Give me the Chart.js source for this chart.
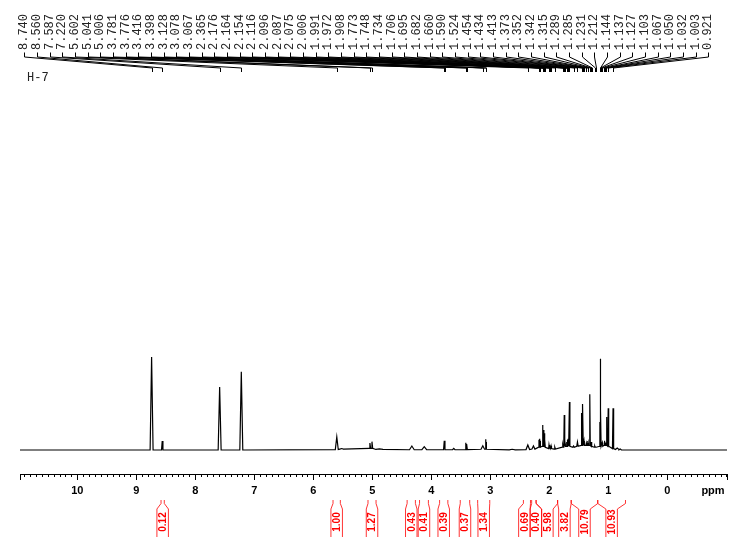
<!DOCTYPE html>
<html>
<head>
<meta charset="utf-8">
<title>H-7</title>
<script src="https://cdn.jsdelivr.net/npm/chart.js@4.4.0/dist/chart.umd.min.js"></script>
<style>
    html, body { margin: 0; padding: 0; background: #fff; }
    canvas { display: block; }
</style>
</head>
<body>
<canvas id="nmrChart" width="738" height="552"></canvas>
<script>
// peaks: shift (ppm), top, local baseline under it, half width (ppm)
const peakShift = [8.740, 8.560, 7.587, 7.220, 5.602, 5.520, 5.041, 5.006, 4.880, 4.330, 4.120,
    3.781, 3.620, 3.416, 3.398, 3.128, 3.078, 3.067, 2.630, 2.365, 2.270, 2.176, 2.164, 2.154,
    2.116, 2.096, 2.087, 2.075, 2.006, 1.991, 1.972, 1.908, 1.773, 1.748, 1.734, 1.706, 1.695,
    1.682, 1.660, 1.590, 1.524, 1.454, 1.434, 1.413, 1.373, 1.352, 1.342, 1.315, 1.289, 1.231,
    1.212, 1.144, 1.137, 1.127, 1.103, 1.067, 1.050, 1.032, 1.003, 0.921, 0.850, 0.800];
const peakHeight = [100, 9.7, 67.7, 84, 14, 1.6, 7.5, 9, 1.2, 4.3, 3.5,
    10, 1.8, 7.8, 6.5, 4.5, 11.5, 8.5, 0.8, 5.4, 4.3, 11, 12, 10,
    27, 21.5, 18, 11, 5.4, 3.5, 4.5, 3.2, 5.4, 37.6, 7, 8.6, 11,
    12, 51.6, 4.3, 8.6, 39.8, 49.5, 9.7, 7.5, 9.7, 7.5, 60, 8.6, 4.3,
    3.2, 30, 98, 44, 8, 10, 8, 35.5, 45, 45, 2.2, 1];
const peakFoot = [0, 0, 0, 0, 0.5, 1, 1.8, 1.8, 0.6, 0.3, 0.3,
    0.3, 0.3, 0.5, 0.5, 0.8, 0.8, 0.8, 0.2, 0.5, 1, 3, 3, 3,
    4, 4, 4, 3, 1.5, 1.5, 1.5, 1, 3, 4, 4, 4, 4,
    4, 4, 3, 4, 5, 5, 5, 5, 5, 5, 5, 4, 3,
    3, 4, 4, 4, 4, 5, 5, 5, 4, 1.5, 0.5, 0.2];
const peakHalfWidth = [0.025, 0.012, 0.025, 0.025, 0.025, 0.03, 0.012, 0.012, 0.06, 0.04, 0.04,
    0.012, 0.02, 0.008, 0.008, 0.03, 0.005, 0.005, 0.05, 0.03, 0.025, 0.005, 0.005, 0.004,
    0.008, 0.004, 0.004, 0.006, 0.006, 0.006, 0.008, 0.012, 0.008, 0.008, 0.005, 0.005, 0.004,
    0.004, 0.008, 0.012, 0.012, 0.008, 0.008, 0.006, 0.008, 0.005, 0.004, 0.008, 0.006, 0.008,
    0.006, 0.003, 0.003, 0.004, 0.008, 0.006, 0.006, 0.008, 0.008, 0.01, 0.03, 0.02];

// peak picking list printed above the spectrum
const pickedShifts = ['8.740', '8.560', '7.587', '7.220', '5.602', '5.041', '5.006', '3.781',
    '3.776', '3.416', '3.398', '3.128', '3.078', '3.067', '2.365', '2.176', '2.164', '2.154',
    '2.116', '2.096', '2.087', '2.075', '2.006', '1.991', '1.972', '1.908', '1.773', '1.748',
    '1.734', '1.706', '1.695', '1.682', '1.660', '1.590', '1.524', '1.454', '1.434', '1.413',
    '1.373', '1.352', '1.342', '1.315', '1.289', '1.285', '1.231', '1.212', '1.144', '1.137',
    '1.127', '1.103', '1.067', '1.050', '1.032', '1.003', '0.921'];

// integral regions (ppm) and their values
const integralFrom = [8.58, 5.666, 5.073, 4.41, 4.20, 3.86, 3.51, 3.215, 2.44, 2.30, 2.225, 1.86, 1.63, 1.18];
const integralTo = [8.525, 5.542, 4.937, 4.27, 4.05, 3.72, 3.35, 3.01, 2.32, 2.225, 1.86, 1.63, 1.18, 0.71];
const integralValue = ['0.12', '1.00', '1.27', '0.43', '0.41', '0.39', '0.37', '1.34', '0.69', '0.40', '5.98', '3.82', '10.79', '10.93'];

const sampleName = 'H-7';
const axisUnit = 'ppm';
const ppmMin = -1.01;
const ppmMax = 10.97;

// line points: each peak is a narrow spike sitting on its local baseline
const trace = [{ x: ppmMax, y: 0 }];
peakShift.forEach((p, i) => {
    const w = peakHalfWidth[i];
    trace.push({ x: p + w, y: peakFoot[i] });
    trace.push({ x: p, y: peakHeight[i] });
    trace.push({ x: p - w, y: peakFoot[i] });
});
trace.push({ x: ppmMin, y: 0 });

const annotations = {
    id: 'annotations',
    afterDraw(chart) {
        const ctx = chart.ctx;
        const xs = chart.scales.x;
        const axisY = chart.chartArea.bottom;
        ctx.save();

        // minor ruler ticks every 0.1 ppm
        ctx.strokeStyle = '#000';
        ctx.lineWidth = 1;
        ctx.beginPath();
        for (let k = -10; k <= 109; k++) {
            const px = Math.round(xs.getPixelForValue(k / 10)) + 0.5;
            ctx.moveTo(px, axisY);
            ctx.lineTo(px, axisY + 3);
        }
        ctx.stroke();

        // unit label
        ctx.fillStyle = '#000';
        ctx.font = 'bold 11px "Liberation Sans", Arial, sans-serif';
        ctx.textAlign = 'center';
        ctx.textBaseline = 'middle';
        ctx.fillText(axisUnit, 713, 491);

        // sample name
        ctx.fillStyle = '#222';
        ctx.font = '12px "Liberation Mono", "Courier New", monospace';
        ctx.textAlign = 'left';
        ctx.textBaseline = 'middle';
        ctx.fillText(sampleName, 27, 78);

        // peak picking labels and their fan of connectors
        const first = 24.3, last = 708.3;
        const step = (last - first) / (pickedShifts.length - 1);
        ctx.beginPath();
        pickedShifts.forEach((label, i) => {
            const lx = Math.round(first + i * step) + 0.5;
            const tx = Math.round(xs.getPixelForValue(parseFloat(label))) + 0.5;
            ctx.moveTo(lx, 52.5);
            ctx.lineTo(lx, 57);
            ctx.lineTo(tx, 68);
            ctx.lineTo(tx, 72);
        });
        ctx.stroke();
        pickedShifts.forEach((label, i) => {
            const lx = first + i * step;
            ctx.save();
            ctx.translate(lx, 50);
            ctx.rotate(-Math.PI / 2);
            ctx.textAlign = 'left';
            ctx.textBaseline = 'middle';
            ctx.fillText(label, 0, 0);
            ctx.restore();
        });

        // integral brackets under the axis
        const boxW = 11.5;
        const centers = integralFrom.map((a, i) =>
            (xs.getPixelForValue(a) + xs.getPixelForValue(integralTo[i])) / 2);
        for (let pass = 0; pass < 10; pass++) {
            for (let i = 1; i < centers.length; i++) {
                const gap = centers[i] - centers[i - 1];
                if (gap < boxW) {
                    const push = (boxW - gap) / 2;
                    centers[i - 1] -= push;
                    centers[i] += push;
                }
            }
        }
        ctx.strokeStyle = 'rgba(255, 0, 0, 0.8)';
        ctx.fillStyle = '#ff0000';
        ctx.font = 'bold 10px "Liberation Sans", Arial, sans-serif';
        const top = 500, neck = 503.5, shoulder = 509, bottom = 537;
        integralFrom.forEach((a, i) => {
            const left = xs.getPixelForValue(a);
            const right = xs.getPixelForValue(integralTo[i]);
            const bl = centers[i] - boxW / 2;
            const br = centers[i] + boxW / 2;
            ctx.beginPath();
            ctx.moveTo(left, top);
            ctx.lineTo(left, neck);
            ctx.lineTo(bl, shoulder);
            ctx.lineTo(bl, bottom);
            ctx.moveTo(right, top);
            ctx.lineTo(right, neck);
            ctx.lineTo(br, shoulder);
            ctx.lineTo(br, bottom);
            ctx.stroke();
            ctx.save();
            ctx.translate(centers[i] + 0.5, 522);
            ctx.rotate(-Math.PI / 2);
            ctx.textAlign = 'center';
            ctx.textBaseline = 'middle';
            ctx.fillText(integralValue[i], 0, 0);
            ctx.restore();
        });

        ctx.restore();
    }
};

new Chart(document.getElementById('nmrChart').getContext('2d'), {
    type: 'line',
    data: {
        datasets: [{
            data: trace,
            borderColor: '#000',
            borderWidth: 1.2,
            pointRadius: 0,
            tension: 0,
            fill: false
        }]
    },
    options: {
        responsive: false,
        animation: false,
        devicePixelRatio: 1,
        layout: { padding: { top: 75, left: 20, right: 11, bottom: 0 } },
        plugins: {
            legend: { display: false },
            tooltip: { enabled: false }
        },
        scales: {
            x: {
                type: 'linear',
                reverse: true,
                min: ppmMin,
                max: ppmMax,
                afterFit: (scale) => { scale.height = 78; },
                border: { display: true, color: '#000', width: 1 },
                grid: {
                    display: true,
                    drawOnChartArea: false,
                    drawTicks: true,
                    tickLength: 6,
                    tickColor: '#000'
                },
                ticks: {
                    stepSize: 1,
                    autoSkip: false,
                    maxRotation: 0,
                    padding: 4,
                    color: '#000',
                    font: { family: '"Liberation Sans", Arial, sans-serif', size: 11, weight: 'bold' },
                    callback: (value) => (Number.isInteger(value) && value >= 0 && value <= 10) ? String(value) : ''
                }
            },
            y: {
                display: false,
                min: -25.8,
                max: 403.2
            }
        }
    },
    plugins: [annotations]
});
</script>
</body>
</html>
